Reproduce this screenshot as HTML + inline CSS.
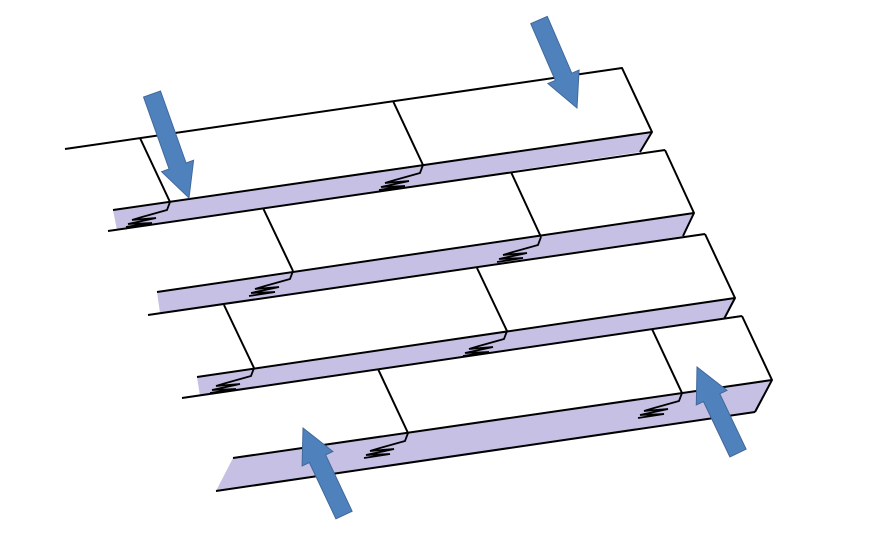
<!DOCTYPE html>
<html><head><meta charset="utf-8"><style>html,body{margin:0;padding:0;background:#fff}svg{display:block}</style></head>
<body>
<svg id="s" width="883" height="536" viewBox="0 0 883 536" xmlns="http://www.w3.org/2000/svg">
<g stroke="#000" stroke-width="2" stroke-linejoin="round" fill="none">
<polygon points="113,210 652,132 640,152 117,230" fill="#c5c0e4" stroke="none"/>
<polyline points="65,149 622,68 652,132 640,152"/>
<line x1="113" y1="210" x2="652" y2="132"/>
<line x1="108" y1="231" x2="665" y2="150"/>
<line x1="140" y1="138" x2="170" y2="202"/>
<line x1="393" y1="101" x2="423" y2="165"/>
<polygon points="157,292 694,213 683,236 160,313" fill="#c5c0e4" stroke="none"/>
<polyline points="665,150 694,213 683,236"/>
<line x1="157" y1="292" x2="694" y2="213"/>
<line x1="148" y1="315" x2="705" y2="234"/>
<line x1="263" y1="208" x2="293" y2="271"/>
<line x1="511" y1="172" x2="541" y2="237"/>
<polygon points="197,377 735,298 724,319 200,396" fill="#c5c0e4" stroke="none"/>
<polyline points="705,234 735,298 724,319"/>
<line x1="197" y1="377" x2="735" y2="298"/>
<line x1="182" y1="398" x2="742" y2="316"/>
<line x1="224" y1="305" x2="254" y2="368"/>
<line x1="477" y1="268" x2="507" y2="331"/>
<polygon points="233,458 772,380 755,412 216,491" fill="#c5c0e4" stroke="none"/>
<polyline points="742,316 772,380 755,412"/>
<line x1="233" y1="458" x2="772" y2="380"/>
<line x1="216" y1="491" x2="755" y2="412"/>
<line x1="378" y1="369" x2="408" y2="433"/>
<line x1="652" y1="329" x2="682" y2="393"/>
</g>
<g id="springs" stroke="#000" stroke-width="1.8" fill="none"></g>
<g id="arrows" fill="#4f81bd" stroke="#41699a" stroke-width="1"></g>
<script>
var sp=document.getElementById('springs');
[[170,202],[423,165],[293,271],[541,237],[254,368],[507,331],[408,433],[682,393]].forEach(function(p){
var x=p[0],y=p[1];
var pts=[[0,0],[-3,8],[-28,15],[-38,18],[-14,16],[-42,22],[-18,21],[-44,25]];
var e=document.createElementNS('http://www.w3.org/2000/svg','polyline');
e.setAttribute('points',pts.map(function(q){return (x+q[0])+','+(y+q[1])}).join(' '));
sp.appendChild(e);});
var ar=document.getElementById('arrows');
function arrow(tx,ty,hx,hy){
var dx=hx-tx,dy=hy-ty,L=Math.sqrt(dx*dx+dy*dy),ux=dx/L,uy=dy/L,nx=-uy,ny=ux;
var sw=9,hw=17,hl=34;
var bx=hx-ux*hl,by=hy-uy*hl;
var P=[[tx+nx*sw,ty+ny*sw],[bx+nx*sw,by+ny*sw],[bx+nx*hw,by+ny*hw],[hx,hy],[bx-nx*hw,by-ny*hw],[bx-nx*sw,by-ny*sw],[tx-nx*sw,ty-ny*sw]];
var e=document.createElementNS('http://www.w3.org/2000/svg','polygon');
e.setAttribute('points',P.map(function(q){return q[0].toFixed(1)+','+q[1].toFixed(1)}).join(' '));
ar.appendChild(e);}
arrow(152,94,189,198);
arrow(539,20,577,108);
arrow(344,515,303,428);
arrow(738,453,697,367);
</script>
</svg>
</body></html>
